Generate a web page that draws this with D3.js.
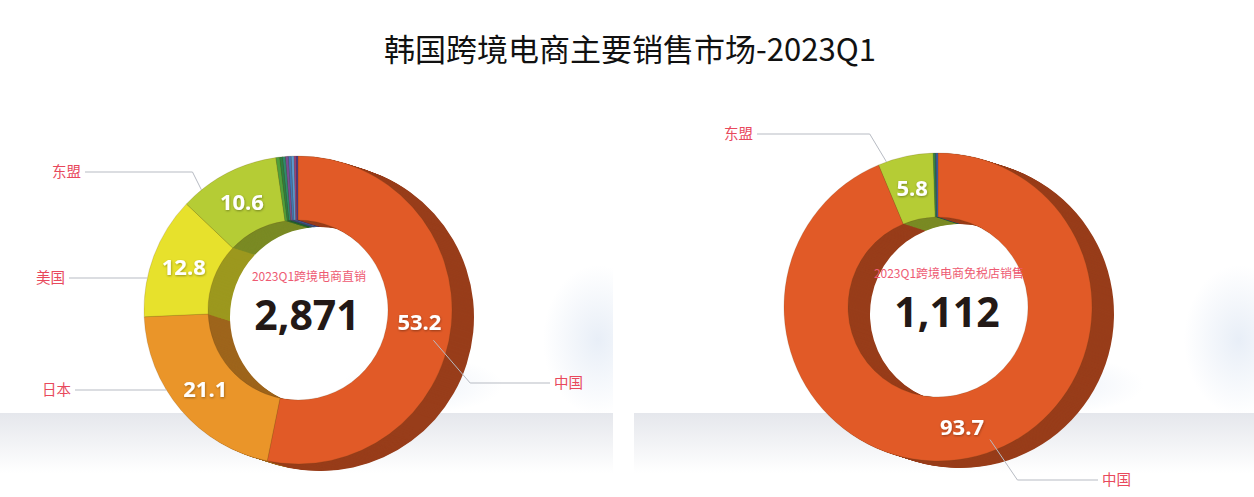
<!DOCTYPE html>
<html>
<head>
<meta charset="utf-8">
<script src="https://cdn.jsdelivr.net/npm/d3@7"></script>
<style>
  html, body { margin: 0; padding: 0; background: #fff; }
  svg { display: block; }
</style>
</head>
<body>
<svg id="chart" width="1254" height="497"></svg>
<script>
// data (shares in %)
const title = "韩国跨境电商主要销售市场-2023Q1"

const directCaption = "2023Q1跨境电商直销"
const directTotal = 2871
const directMarkets = ["中国", "日本", "美国", "东盟", "其他1", "其他2", "其他3", "其他4", "其他5", "其他6", "其他7", "其他8"]
const directShares = [53.2, 21.1, 12.8, 10.6, 0.4, 0.3, 0.3, 0.3, 0.3, 0.3, 0.2, 0.2]
const directColors = ["#e15a27", "#ea9529", "#e7e12c", "#b5cc35", "#4f9f3b", "#2d8040", "#2c8b6d", "#7a4e95", "#3f79b9", "#5b9ad0", "#a2407e", "#4a3a8c"]

const dutyFreeCaption = "2023Q1跨境电商免税店销售"
const dutyFreeTotal = 1112
const dutyFreeMarkets = ["中国", "东盟", "其他1", "其他2", "其他3"]
const dutyFreeShares = [93.7, 5.8, 0.2, 0.1, 0.2]
const dutyFreeColors = ["#e15a27", "#b5cc35", "#2f8a4a", "#2a6f6a", "#3a5ca8"]

// which markets get an outside label
const directLabelled = ["东盟", "美国", "日本", "中国"]
const dutyFreeLabelled = ["东盟", "中国"]

// layout, kept apart from the data
const layout = {
  width: 1254, height: 497,
  rOuter: 154, rInner: 90,
  depth: [22, 7], steps: 22,
  panels: [
    {cx: 298, cy: 310, x0: 0, x1: 613,
     leaders: {
       "东盟": {kind: "edge", at: 0.2, slope: 0.5, ty: 172, endX: 85},
       "美国": {kind: "flat", ty: 278, endX: 69},
       "日本": {kind: "flat", ty: 390, endX: 75},
       "中国": {kind: "label", off: [14, 18], slope: 0.86, ty: 383, endX: 550}
     }},
    {cx: 938, cy: 307, x0: 634, x1: 1254,
     leaders: {
       "东盟": {kind: "edge", at: 0.15, slope: 0.6, ty: 134, endX: 757},
       "中国": {kind: "label", off: [28, 13], slope: 0.68, ty: 480, endX: 1098}
     }}
  ]
}

const svg = d3.select("#chart")
const defs = svg.append("defs")

// background: grey floor band + soft blue glows
const band = defs.append("linearGradient").attr("id", "band").attr("x1", 0).attr("y1", 0).attr("x2", 0).attr("y2", 1)
band.append("stop").attr("offset", "0%").attr("stop-color", "#e5e7ec")
band.append("stop").attr("offset", "100%").attr("stop-color", "#ffffff")

const glow = defs.append("radialGradient").attr("id", "glow")
glow.append("stop").attr("offset", "0%").attr("stop-color", "#d3dff0").attr("stop-opacity", 0.8)
glow.append("stop").attr("offset", "100%").attr("stop-color", "#d3dff0").attr("stop-opacity", 0)

const shadow = defs.append("filter").attr("id", "txtShadow").attr("x", "-20%").attr("y", "-20%").attr("width", "140%").attr("height", "140%")
shadow.append("feDropShadow").attr("dx", 0.5).attr("dy", 1).attr("stdDeviation", 1.2)
      .attr("flood-color", "#000").attr("flood-opacity", 0.35)

svg.append("rect").attr("width", layout.width).attr("height", layout.height).attr("fill", "#fff")

layout.panels.forEach((p, i) => {
  defs.append("clipPath").attr("id", "panel" + i)
      .append("rect").attr("x", p.x0).attr("y", 0).attr("width", p.x1 - p.x0).attr("height", layout.height)
  const bg = svg.append("g").attr("clip-path", `url(#panel${i})`)
  bg.append("ellipse").attr("cx", p.x1 - 15).attr("cy", 340).attr("rx", 55).attr("ry", 75)
    .attr("fill", "url(#glow)").attr("opacity", 0.65)
  bg.append("ellipse").attr("cx", p.x1 - 190).attr("cy", 385).attr("rx", 80).attr("ry", 28)
    .attr("fill", "url(#glow)").attr("opacity", 0.45)
  bg.append("rect").attr("x", p.x0).attr("y", 413).attr("width", p.x1 - p.x0).attr("height", 60)
    .attr("fill", "url(#band)")
})

svg.append("text")
   .attr("x", 630).attr("y", 61)
   .attr("text-anchor", "middle")
   .style("font-family", "'Noto Sans CJK SC', 'Noto Sans', sans-serif")
   .style("font-size", "31px")
   .attr("fill", "#111")
   .text(title)

const charts = [
  {names: directMarkets, values: directShares, colors: directColors, total: directTotal,
   caption: directCaption, labelled: directLabelled},
  {names: dutyFreeMarkets, values: dutyFreeShares, colors: dutyFreeColors, total: dutyFreeTotal,
   caption: dutyFreeCaption, labelled: dutyFreeLabelled}
]

const pie = d3.pie().sort(null).value(d => d.value)
const arc = d3.arc().innerRadius(layout.rInner).outerRadius(layout.rOuter)
const midArc = d3.arc().innerRadius((layout.rInner + layout.rOuter) / 2).outerRadius((layout.rInner + layout.rOuter) / 2)
const fmt = d3.format(",")

charts.forEach((c, i) => {
  const p = layout.panels[i]
  const rows = c.names.map((n, j) => ({name: n, value: c.values[j], color: c.colors[j]}))
  const arcs = pie(rows)
  const g = svg.append("g").attr("transform", `translate(${p.cx},${p.cy})`)

  // extruded side: stacked darker copies
  const [dx, dy] = layout.depth
  for (let k = layout.steps; k >= 1; k--) {
    g.append("g")
     .attr("transform", `translate(${dx * k / layout.steps},${dy * k / layout.steps})`)
     .selectAll("path")
     .data(arcs)
     .join("path")
     .attr("d", arc)
     .attr("fill", d => d3.color(d.data.color).darker(1.1))
  }

  // front face
  g.append("g").selectAll("path")
   .data(arcs)
   .join("path")
   .attr("d", arc)
   .attr("fill", d => d.data.color)
   .attr("stroke", "rgba(90,60,20,0.25)")
   .attr("stroke-width", 0.7)

  // values on slices
  g.append("g").selectAll("text")
   .data(arcs.filter(d => d.data.value >= 5))
   .join("text")
   .attr("transform", d => `translate(${midArc.centroid(d)})`)
   .attr("text-anchor", "middle")
   .attr("dy", "0.36em")
   .attr("fill", "#fff")
   .attr("filter", "url(#txtShadow)")
   .style("font-family", "'Open Sans', 'DejaVu Sans', sans-serif")
   .style("font-weight", 700)
   .style("font-size", "22px")
   .text(d => d.data.value.toFixed(1))

  // centre texts
  g.append("text")
   .attr("x", dx / 2).attr("y", -29)
   .attr("text-anchor", "middle")
   .attr("fill", "#ee5a72")
   .style("font-family", "'Noto Sans CJK SC', sans-serif")
   .style("font-size", "12px")
   .text(c.caption)

  g.append("text")
   .attr("x", dx / 2 - 2).attr("y", 20)
   .attr("text-anchor", "middle")
   .attr("fill", "#231916")
   .style("font-family", "'Open Sans', 'DejaVu Sans', sans-serif")
   .style("font-weight", 700)
   .style("font-size", "41px")
   .text(fmt(c.total))

  // leaders and outside labels
  const line = d3.line()
  arcs.filter(d => c.labelled.includes(d.data.name)).forEach(d => {
    const L = p.leaders[d.data.name]
    const ty = L.ty - p.cy
    const ex = L.endX - p.cx
    let pts
    if (L.kind === "flat") {
      const sx = -Math.sqrt(layout.rOuter ** 2 - ty ** 2)
      pts = [[sx, ty], [ex, ty]]
    } else {
      let s
      if (L.kind === "edge") {
        const a = d.startAngle + L.at * (d.endAngle - d.startAngle)
        s = [layout.rOuter * Math.sin(a), -layout.rOuter * Math.cos(a)]
      } else {
        const m = midArc.centroid(d)
        s = [m[0] + L.off[0], m[1] + L.off[1]]
      }
      const dir = ex < s[0] ? -1 : 1
      const elbow = [s[0] + dir * L.slope * Math.abs(ty - s[1]), ty]
      pts = [s, elbow, [ex, ty]]
    }
    g.append("path")
     .attr("d", line(pts))
     .attr("fill", "none")
     .attr("stroke", "#b7bbc3")
     .attr("stroke-width", 1)

    const left = ex < 0
    g.append("text")
     .attr("x", left ? ex - 4 : ex + 4)
     .attr("y", ty)
     .attr("dy", "0.35em")
     .attr("text-anchor", left ? "end" : "start")
     .attr("fill", "#e8495c")
     .style("font-family", "'Noto Sans CJK SC', sans-serif")
     .style("font-size", "14.5px")
     .text(d.data.name)
  })
})
</script>
</body>
</html>
